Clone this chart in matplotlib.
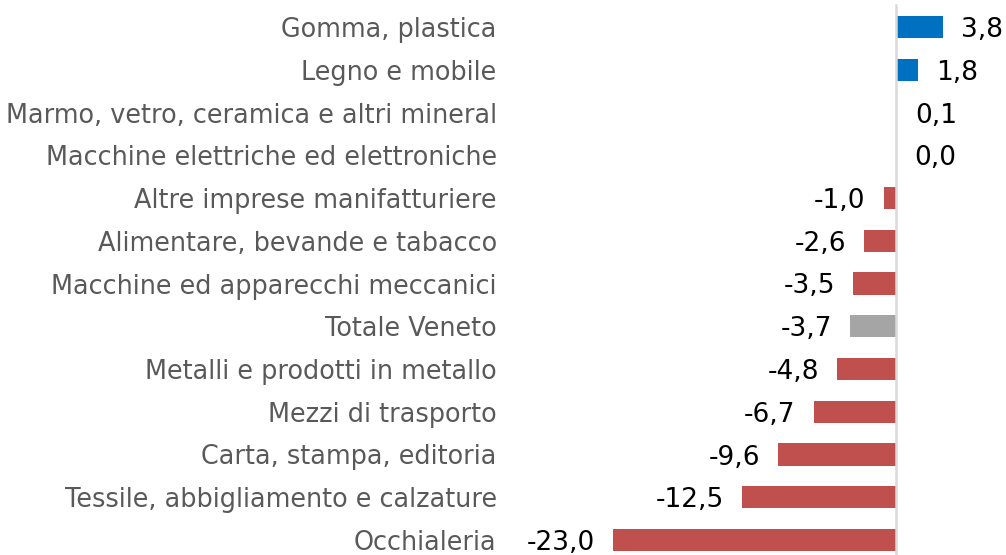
import matplotlib

matplotlib.use("Agg")

import matplotlib.pyplot as plt

CATEGORIES = [
    "Gomma, plastica",
    "Legno e mobile",
    "Marmo, vetro, ceramica e altri mineral",
    "Macchine elettriche ed elettroniche",
    "Altre imprese manifatturiere",
    "Alimentare, bevande e tabacco",
    "Macchine ed apparecchi meccanici",
    "Totale Veneto",
    "Metalli e prodotti in metallo",
    "Mezzi di trasporto",
    "Carta, stampa, editoria",
    "Tessile, abbigliamento e calzature",
    "Occhialeria",
]
VALUES = [3.8, 1.8, 0.1, 0.0, -1.0, -2.6, -3.5, -3.7, -4.8, -6.7, -9.6, -12.5, -23.0]
TOTAL_LABEL = "Totale Veneto"

BLUE = "#0070C0"
RED = "#C0504D"
GREY = "#A5A5A5"

W, H = 1006, 555
fig = plt.figure(figsize=(W / 100, H / 100), dpi=100)

# axes placed in pixels: zero at x=896, about 12.3 px per unit
x0_px, scale = 896.0, 12.3
ax_left = 505
ax = fig.add_axes([ax_left / W, 0, 1 - ax_left / W, 1])
ax.set_xlim(-(x0_px - ax_left) / scale, (W - x0_px) / scale)
row0, step = 27.0, 42.75
ax.set_ylim((H - row0) / step, -row0 / step)

ys = range(len(VALUES))
colors = []
for c, v in zip(CATEGORIES, VALUES):
    if c == TOTAL_LABEL:
        colors.append(GREY)
    elif v >= 0:
        colors.append(BLUE)
    else:
        colors.append(RED)

ax.barh(list(ys), VALUES, height=0.52, color=colors, zorder=2)
ax.axvline(0, ymin=0, ymax=1 - 5 / H, color="#D9D9D9", lw=1.8, zorder=3)

for y, v in zip(ys, VALUES):
    txt = f"{v:.1f}".replace(".", ",")
    if v >= 0:
        ax.annotate(txt, (v, y), xytext=(13, 0), textcoords="offset points",
                    ha="left", va="center_baseline", fontsize=19)
    else:
        ax.annotate(txt, (v, y), xytext=(-13, 0), textcoords="offset points",
                    ha="right", va="center_baseline", fontsize=19)

ax.set_yticks(list(ys))
ax.set_yticklabels(CATEGORIES, fontsize=18.4, color="#595959")
ax.tick_params(axis="y", length=0, pad=6)
ax.set_xticks([])
for s in ax.spines.values():
    s.set_visible(False)

fig.savefig("out.png", dpi=100)
